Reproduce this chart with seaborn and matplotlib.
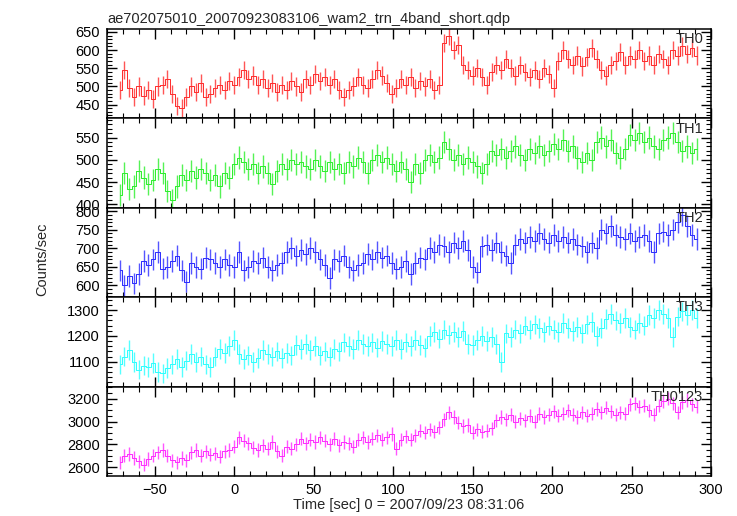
import numpy as np
import pandas as pd
import matplotlib
matplotlib.use('Agg')
import matplotlib.pyplot as plt
import seaborn as sns
from matplotlib.ticker import MultipleLocator, AutoMinorLocator

# time bins (sec), 3 s wide
time_sec = np.arange(-72, 292, 3)

# count rates, one list per band
th0 = [490, 545, 495, 470, 500, 475, 490, 465, 500, 505,
       520, 480, 445, 440, 470, 500, 485, 510, 470, 480,
       495, 505, 490, 515, 505, 525, 545, 520, 530, 505,
       520, 495, 510, 485, 505, 490, 515, 500, 485, 520,
       505, 535, 515, 525, 505, 520, 490, 470, 490, 500,
       525, 505, 495, 520, 545, 530, 510, 480, 495, 520,
       505, 525, 495, 515, 500, 520, 490, 505, 620, 640,
       600, 615, 560, 545, 530, 550, 525, 505, 540, 560,
       545, 575, 550, 530, 560, 540, 525, 545, 520, 550,
       535, 495, 570, 600, 575, 560, 585, 555, 580, 605,
       575, 545, 530, 560, 570, 595, 560, 585, 575, 600,
       570, 585, 560, 590, 575, 560, 600, 585, 610, 590, 605, 585]
th1 = [420, 470, 435, 440, 475, 460, 445, 455, 480, 470,
       430, 410, 440, 465, 455, 475, 460, 480, 470, 455,
       465, 440, 470, 460, 490, 505, 495, 480, 490, 470,
       485, 470, 445, 475, 490, 480, 500, 490, 495, 485,
       480, 500, 485, 475, 495, 480, 490, 470, 495, 485,
       505, 495, 470, 500, 510, 495, 505, 490, 475, 495,
       480, 450, 490, 470, 500, 510, 495, 505, 540, 525,
       500, 510, 490, 505, 495, 485, 470, 490, 520, 510,
       525, 505, 520, 530, 510, 500, 525, 515, 530, 510,
       520, 535, 525, 545, 520, 530, 505, 495, 515, 500,
       540, 550, 530, 545, 515, 505, 525, 555, 545, 560,
       540, 550, 530, 525, 545, 550, 560, 540, 520, 530, 515, 525]
th2 = [640, 600, 625, 605, 630, 665, 655, 670, 690, 645,
       650, 665, 680, 640, 610, 660, 650, 645, 675, 670,
       660, 650, 670, 655, 650, 690, 640, 650, 665, 660,
       675, 650, 640, 655, 660, 690, 700, 680, 695, 685,
       700, 690, 670, 655, 620, 670, 665, 680, 650, 640,
       655, 660, 685, 670, 690, 675, 680, 660, 645, 650,
       665, 630, 660, 675, 670, 700, 690, 710, 705, 690,
       715, 700, 720, 695, 650, 635, 705, 710, 695, 715,
       690, 680, 660, 710, 725, 715, 730, 720, 740, 725,
       715, 735, 720, 730, 715, 725, 710, 705, 690, 715,
       700, 750, 740, 760, 735, 730, 725, 740, 720, 730,
       735, 720, 690, 740, 745, 735, 750, 770, 790, 760, 735, 725]
th3 = [1090, 1120, 1145, 1100, 1070, 1085, 1080, 1095, 1060, 1055,
       1075, 1090, 1110, 1080, 1105, 1130, 1100, 1120, 1090, 1080,
       1120, 1150, 1135, 1160, 1185, 1130, 1110, 1125, 1100, 1115,
       1145, 1130, 1120, 1140, 1115, 1135, 1125, 1165, 1150, 1170,
       1145, 1160, 1125, 1140, 1120, 1150, 1140, 1175, 1160, 1150,
       1185, 1170, 1160, 1175, 1155, 1180, 1170, 1160, 1185, 1150,
       1175, 1160, 1185, 1165, 1155, 1200, 1215, 1190, 1225, 1205,
       1215, 1195, 1220, 1170, 1165, 1185, 1200, 1180, 1195, 1170,
       1100, 1210, 1195, 1225, 1210, 1240, 1225, 1245, 1230, 1215,
       1240, 1225, 1215, 1250, 1230, 1220, 1235, 1210, 1245, 1255,
       1200, 1230, 1265, 1285, 1260, 1250, 1270, 1235, 1225, 1250,
       1240, 1280, 1270, 1300, 1285, 1270, 1195, 1275, 1295, 1280, 1300, 1270]
th0123 = [2640, 2700, 2715, 2680, 2650, 2620, 2670, 2700, 2730, 2750,
          2700, 2660, 2640, 2680, 2660, 2730, 2750, 2700, 2740, 2710,
          2720, 2690, 2740, 2750, 2780, 2860, 2830, 2810, 2770, 2750,
          2790, 2760, 2820, 2740, 2700, 2780, 2760, 2800, 2850, 2810,
          2840, 2820, 2860, 2830, 2800, 2850, 2790, 2820, 2810, 2780,
          2840, 2860, 2820, 2850, 2880, 2840, 2860, 2890, 2760, 2840,
          2870, 2840, 2880, 2920, 2900, 2930, 2910, 2950, 3020, 3080,
          3040, 2990, 2960, 2970, 2900, 2930, 2910, 2920, 2940, 3010,
          3040, 3020, 3060, 3000, 3030, 3010, 3050, 3000, 3070, 3040,
          3060, 3090, 3050, 3070, 3100, 3060, 3040, 3080, 3050, 3070,
          3110, 3080, 3120, 3090, 3060, 3080, 3070, 3150, 3160, 3130,
          3140, 3100, 3060, 3140, 3180, 3200, 3160, 3080, 3170, 3190, 3150, 3130]

bands = ['TH0', 'TH1', 'TH2', 'TH3', 'TH0123']
rates = [th0, th1, th2, th3, th0123]
errors = [25, 25, 29, 38, 58]
colors = ['#ff2a2a', '#2aef2a', '#2a2aff', '#2affff', '#ff2aff']
ylims = [(412, 658), (392, 593), (568, 809), (1004, 1350), (2521, 3307)]
ymajor = [50, 50, 50, 100, 200]
yminor = [5, 5, 5, 5, 4]

sns.set_theme(style='ticks')
plt.rcParams['font.family'] = ['Liberation Sans', 'DejaVu Sans']

fig = plt.figure(figsize=(7.37, 5.16), dpi=100)
gs = fig.add_gridspec(5, 1, left=0.1452, right=0.9647, top=0.9438,
                      bottom=0.0775, hspace=0)

for i, band in enumerate(bands):
    ax = fig.add_subplot(gs[i])
    df = pd.DataFrame({'time': time_sec, 'rate': rates[i]})
    sns.lineplot(data=df, x='time', y='rate', ax=ax, color=colors[i],
                 drawstyle='steps-mid', linewidth=0.7)
    ax.errorbar(df['time'], df['rate'], yerr=errors[i], fmt='none',
                ecolor=colors[i], elinewidth=1.0, alpha=0.8)
    ax.set_xlim(-80, 300)
    ax.set_ylim(*ylims[i])
    ax.xaxis.set_major_locator(MultipleLocator(50))
    ax.xaxis.set_minor_locator(MultipleLocator(10))
    ax.yaxis.set_major_locator(MultipleLocator(ymajor[i]))
    ax.yaxis.set_minor_locator(AutoMinorLocator(yminor[i]))
    ax.tick_params(which='both', direction='in', top=True, right=True,
                   colors='black', labelsize=10.5, pad=5)
    ax.tick_params(which='major', length=7, width=1)
    ax.tick_params(which='minor', length=3.5, width=0.8)
    for sp in ax.spines.values():
        sp.set_linewidth(1.1)
        sp.set_color('black')
    ax.set_xlabel('')
    ax.set_ylabel('')
    if i < 4:
        ax.tick_params(labelbottom=False)
    ax.text(0.987, 0.965, band, transform=ax.transAxes, ha='right', va='top',
            fontsize=10.5)
    if i == 0:
        ax.set_title('ae702075010_20070923083106_wam2_trn_4band_short.qdp',
                     loc='left', fontsize=10.5, pad=4)
    if i == 4:
        ax.set_xlabel('Time [sec] 0 = 2007/09/23 08:31:06', fontsize=10.5,
                      labelpad=1)

fig.text(0.057, 0.498, 'Counts/sec', rotation=90, ha='center', va='center',
         fontsize=10.5)

plt.savefig('out.png', dpi=100)
